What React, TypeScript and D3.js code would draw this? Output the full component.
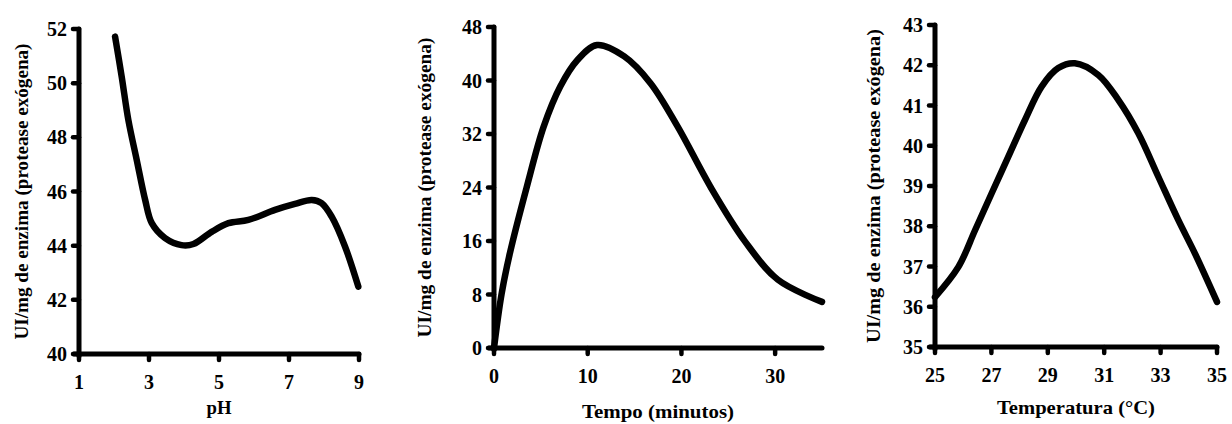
import React from "react";
import * as d3 from "d3";

// ---- Data ----
const phX = [2.03, 2.22, 2.41, 2.65, 2.89, 3.08, 3.46, 3.93, 4.27, 4.79, 5.27, 5.84, 6.6, 7.17, 7.65, 7.93, 8.22, 8.6, 8.98];
const phY = [51.72, 50.24, 48.64, 47.16, 45.69, 44.83, 44.28, 44.02, 44.06, 44.51, 44.83, 44.95, 45.32, 45.54, 45.69, 45.57, 45.07, 43.97, 42.49];
const phXTicks = [1, 3, 5, 7, 9];
const phYTicks = [40, 42, 44, 46, 48, 50, 52];

const tempoX = [0, 0.8, 1.7, 3.5, 5.3, 7.07, 8.86, 11.0, 13.9, 16.7, 19.6, 23.1, 26.7, 30.3, 35];
const tempoY = [0, 8, 14.2, 24.1, 33.1, 39.1, 43.0, 45.3, 43.6, 39.6, 33.1, 24.1, 16.1, 10.2, 6.9];
const tempoXTicks = [0, 10, 20, 30];
const tempoYTicks = [0, 8, 16, 24, 32, 40, 48];

const tempX = [25.0, 25.83, 26.42, 27.01, 27.6, 28.19, 28.78, 29.37, 29.96, 30.79, 31.5, 32.21, 32.92, 33.63, 34.22, 35.0];
const tempY = [36.24, 36.99, 37.9, 38.82, 39.73, 40.64, 41.47, 41.93, 42.05, 41.76, 41.14, 40.31, 39.23, 38.15, 37.32, 36.12];
const tempXTicks = [25, 27, 29, 31, 33, 35];
const tempYTicks = [35, 36, 37, 38, 39, 40, 41, 42, 43];

const yTitle = "UI/mg de enzima (protease exógena)";

type PanelProps = {
  xs: number[];
  ys: number[];
  xDomain: [number, number];
  yDomain: [number, number];
  xRange: [number, number];
  yRange: [number, number];
  xTicks: number[];
  yTicks: number[];
  xTitle: string;
  xTitleY: number;
  xTitleLen: number;
  yTitleX: number;
  yTitleLen: number;
};

const FONT = "Times New Roman, Liberation Serif, Tinos, FreeSerif, serif";

function Panel(p: PanelProps) {
  const x = d3.scaleLinear().domain(p.xDomain).range(p.xRange);
  const y = d3.scaleLinear().domain(p.yDomain).range(p.yRange);
  const pts = p.xs.map((v, i) => [v, p.ys[i]] as [number, number]);
  const line = d3
    .line<[number, number]>()
    .x((d) => x(d[0]))
    .y((d) => y(d[1]))
    .curve(d3.curveCatmullRom.alpha(0.5));
  const x0 = x(p.xDomain[0]);
  const y0 = y(p.yDomain[0]);
  const yTop = y(p.yDomain[1]);
  const xEnd = x(p.xDomain[1]);
  const yMid = (y0 + yTop) / 2;
  const textStyle = { fontFamily: FONT, fontWeight: 700 } as React.CSSProperties;
  return (
    <g>
      <line x1={x0} x2={x0} y1={yTop} y2={y0 + 2} stroke="#000" strokeWidth={5} strokeLinecap="round" />
      <line x1={x0 - 5} x2={xEnd} y1={y0} y2={y0} stroke="#000" strokeWidth={5} strokeLinecap="round" />
      {p.yTicks.map((t) => (
        <g key={"yt" + t}>
          <line x1={x0 - 6} x2={x0} y1={y(t)} y2={y(t)} stroke="#000" strokeWidth={4.5} strokeLinecap="round" />
          <text x={x0 - 12} y={y(t)} dy="0.35em" textAnchor="end" fontSize={20} style={textStyle}>
            {t}
          </text>
        </g>
      ))}
      {p.xTicks.map((t) => (
        <g key={"xt" + t}>
          <line x1={x(t)} x2={x(t)} y1={y0} y2={y0 + 6} stroke="#000" strokeWidth={4.5} strokeLinecap="round" />
          <text x={x(t)} y={y0 + 35} textAnchor="middle" fontSize={20} style={textStyle}>
            {t}
          </text>
        </g>
      ))}
      <path d={line(pts) || ""} fill="none" stroke="#000" strokeWidth={6.5} strokeLinecap="round" strokeLinejoin="round" />
      <text
        x={(x0 + xEnd) / 2}
        y={p.xTitleY}
        textAnchor="middle"
        fontSize={19}
        style={textStyle}
        textLength={p.xTitleLen}
        lengthAdjust="spacingAndGlyphs"
      >
        {p.xTitle}
      </text>
      <text
        transform={`translate(${p.yTitleX},${yMid}) rotate(-90)`}
        textAnchor="middle"
        fontSize={18}
        style={textStyle}
        textLength={p.yTitleLen}
        lengthAdjust="spacingAndGlyphs"
      >
        {yTitle}
      </text>
    </g>
  );
}

export default function App() {
  return (
    <svg width={1232} height={424} style={{ position: "absolute", left: 0, top: 0, background: "#fff" }}>
      <rect width={1232} height={424} fill="#fff" />
      <Panel
        xs={phX}
        ys={phY}
        xDomain={[1, 9]}
        yDomain={[40, 52]}
        xRange={[79, 359]}
        yRange={[354, 29]}
        xTicks={phXTicks}
        yTicks={phYTicks}
        xTitle="pH"
        xTitleY={414}
        xTitleLen={25}
        yTitleX={28}
        yTitleLen={296}
      />
      <Panel
        xs={tempoX}
        ys={tempoY}
        xDomain={[0, 35]}
        yDomain={[0, 48]}
        xRange={[494, 822]}
        yRange={[348, 27]}
        xTicks={tempoXTicks}
        yTicks={tempoYTicks}
        xTitle="Tempo (minutos)"
        xTitleY={418}
        xTitleLen={152}
        yTitleX={431}
        yTitleLen={300}
      />
      <Panel
        xs={tempX}
        ys={tempY}
        xDomain={[25, 35]}
        yDomain={[35, 43]}
        xRange={[935, 1217]}
        yRange={[347, 25]}
        xTicks={tempXTicks}
        yTicks={tempYTicks}
        xTitle="Temperatura (°C)"
        xTitleY={414}
        xTitleLen={158}
        yTitleX={880}
        yTitleLen={314}
      />
    </svg>
  );
}
